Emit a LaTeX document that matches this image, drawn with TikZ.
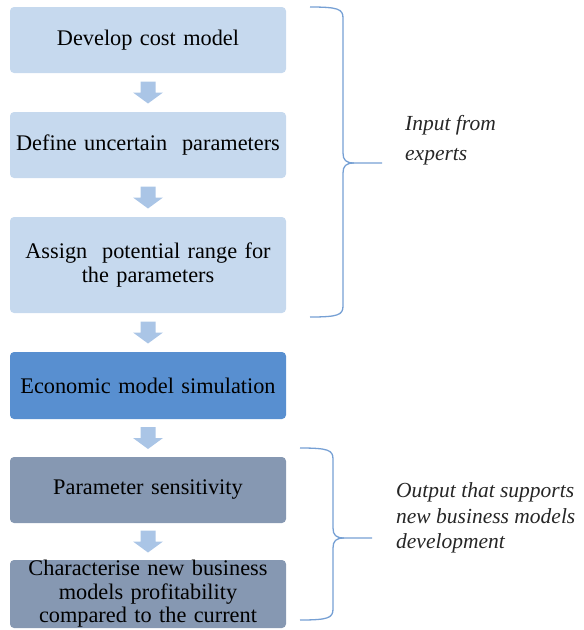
\documentclass[tikz,border=0pt]{standalone}
\usepackage{fontspec}
\setmainfont{Liberation Serif}
\usetikzlibrary{calc}

\definecolor{lightbox}{RGB}{198,217,238}
\definecolor{midbox}{RGB}{88,143,208}
\definecolor{greybox}{RGB}{134,152,178}
\definecolor{arrowfill}{RGB}{170,197,230}
\definecolor{bracecol}{RGB}{118,160,212}

\tikzset{
  stepbox/.style={rectangle, rounded corners=4pt, minimum width=276pt, text width=276pt,
    align=center, inner sep=0pt, font=\fontsize{22.3}{23.5}\selectfont, text=black},
  note/.style={align=left, anchor=west, inner sep=0pt, font=\fontsize{21.5}{25.5}\selectfont\itshape, text=black!85}
}

\newcommand{\steparrow}[2]{%
  \fill[arrowfill] ($(#1.south)!0.5!(#2.north)+(-7.5,11)$) -- ++(15,0) -- ++(0,-11) -- ++(7.5,0)
    -- ++(-15,-11) -- ++(-15,11) -- ++(7.5,0) -- cycle;}

\begin{document}
\begin{tikzpicture}[x=1pt,y=1pt]
    \useasboundingbox (0,0) rectangle (584,-630);

    \node[stepbox, fill=lightbox, minimum height=66pt] (cost) at (148,-40) {Develop cost model};
    \node[stepbox, fill=lightbox, minimum height=66pt] (define) at (148,-145) {Define uncertain\ \ parameters};
    \node[stepbox, fill=lightbox, minimum height=96pt] (range) at (148,-265) {Assign\ \ potential range for\\the parameters};
    \node[stepbox, fill=midbox, minimum height=67pt] (sim) at (148,-385.5) {Economic model simulation};
    \node[stepbox, fill=greybox, minimum height=66pt] (sens) at (148,-490) {Parameter sensitivity};
    \node[stepbox, fill=greybox, minimum height=68pt] (profit) at (148,-594) {Characterise new business\\models profitability\\compared to the current};

    \steparrow{cost}{define}
    \steparrow{define}{range}
    \steparrow{range}{sim}
    \steparrow{sim}{sens}
    \steparrow{sens}{profit}

    \node[note, font=\fontsize{21.5}{30}\selectfont\itshape] (input) at (405,-140) {Input from\\experts};
    \node[note] (output) at (396,-518) {Output that supports\\new business models\\development};

    \coordinate (intip) at (382,-163);
    \coordinate (outtip) at (372,-538);

    \draw[bracecol, line width=1.3pt] (310,-7) .. controls (338,-7) and (343,-9) .. (343,-18) -- (343,-153)
        .. controls (343,-160) and (346,-163) .. (354,-163) -- (intip);
    \draw[bracecol, line width=1.3pt] (354,-163) .. controls (346,-163) and (343,-166) .. (343,-173) -- (343,-306)
        .. controls (343,-315) and (338,-317) .. (310,-317);

    \draw[bracecol, line width=1.3pt] (300,-448) .. controls (328,-448) and (333,-450) .. (333,-459) -- (333,-528)
        .. controls (333,-535) and (336,-538) .. (344,-538) -- (outtip);
    \draw[bracecol, line width=1.3pt] (344,-538) .. controls (336,-538) and (333,-541) .. (333,-548) -- (333,-609)
        .. controls (333,-618) and (328,-620) .. (300,-620);
\end{tikzpicture}
\end{document}
